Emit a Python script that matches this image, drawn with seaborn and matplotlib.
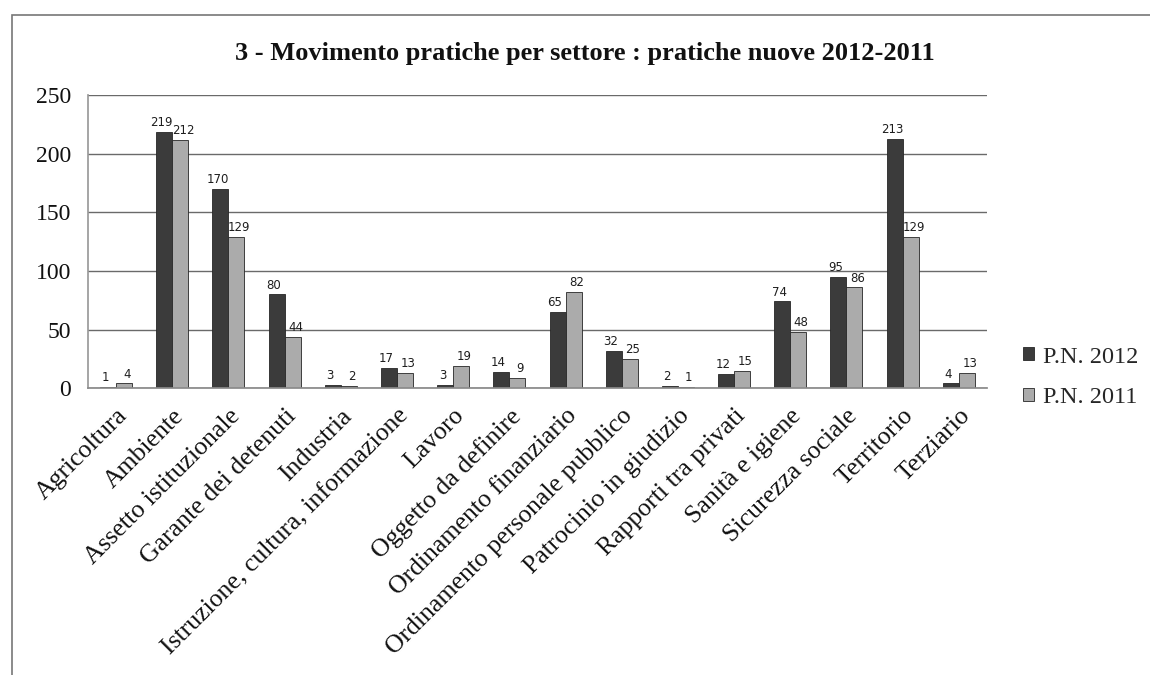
import matplotlib
matplotlib.use("Agg")
import matplotlib.pyplot as plt
import seaborn as sns
import pandas as pd
from matplotlib.patches import Rectangle
from matplotlib.ticker import FixedLocator

settori = [
    "Agricoltura", "Ambiente", "Assetto istituzionale", "Garante dei detenuti",
    "Industria", "Istruzione, cultura, informazione", "Lavoro",
    "Oggetto da definire", "Ordinamento finanziario",
    "Ordinamento personale pubblico", "Patrocinio in giudizio",
    "Rapporti tra privati", "Sanità e igiene", "Sicurezza sociale",
    "Territorio", "Terziario",
]
serie = ["P.N. 2012", "P.N. 2011"]
pn_2012 = [1, 219, 170, 80, 3, 17, 3, 14, 65, 32, 2, 12, 74, 95, 213, 4]
pn_2011 = [4, 212, 129, 44, 2, 13, 19, 9, 82, 25, 1, 15, 48, 86, 129, 13]
y_ticks = [0, 50, 100, 150, 200, 250]
titolo = "3 - Movimento pratiche per settore : pratiche nuove 2012-2011"

df = pd.DataFrame({
    "settore": settori * 2,
    "serie": [serie[0]] * len(settori) + [serie[1]] * len(settori),
    "pratiche": pn_2012 + pn_2011,
})

sns.set_theme(style="white")
plt.rcParams["font.family"] = ["Liberation Serif", "DejaVu Serif"]

fig = plt.figure(figsize=(11.5, 6.75), dpi=100)
ax = fig.add_axes([0.0765, 0.425, 0.7817, 0.434])

palette = {serie[0]: "#3b3b3b", serie[1]: "#ababab"}
sns.barplot(data=df, x="settore", y="pratiche", hue="serie", order=settori,
            hue_order=serie, palette=palette, width=0.57, saturation=1,
            edgecolor="#262626", linewidth=0.6, ax=ax)

# value labels, nudged apart so neighbouring pairs stay readable
for cont, dx in zip(ax.containers, (-2.0, 2.0)):
    for t in ax.bar_label(cont, fmt="%d", padding=2, fontsize=8.5,
                          family="DejaVu Sans", color="#1e1e1e"):
        t.xyann = (dx, t.xyann[1])

ax.set_ylim(0, 250)
ax.set_xlim(-0.5, len(settori) - 0.5)
ax.set_yticks(y_ticks)
ax.yaxis.grid(True, color="#6a6a6a", linewidth=1.0)
ax.set_axisbelow(True)
ax.set_xlabel("")
ax.set_ylabel("")

for s in ["top", "right"]:
    ax.spines[s].set_visible(False)
ax.spines["left"].set_color("#9a9a9a")
ax.spines["bottom"].set_color("#8a8a8a")

ax.tick_params(axis="y", labelsize=17, length=0, pad=12, labelcolor="#111111")
ax.tick_params(axis="x", which="major", length=0, pad=12)
ax.xaxis.set_minor_locator(FixedLocator([i - 0.5 for i in range(len(settori) + 1)]))
ax.tick_params(axis="x", which="minor", length=6, color="#8a8a8a", width=1)
plt.setp(ax.get_xticklabels(), rotation=45, ha="right", rotation_mode="anchor",
         fontsize=18.5, color="#111111")

ax.legend(loc="center left", bbox_to_anchor=(0.8706, 0.441),
          bbox_transform=fig.transFigure, frameon=False, fontsize=17.5,
          handlelength=0.45, handleheight=0.45, handletextpad=0.35,
          labelspacing=0.8)

fig.text(0.509, 0.911, titolo, ha="center", va="baseline", fontsize=19,
         fontweight="bold", color="#111111")

# outer chart frame
fig.patches.append(Rectangle((0.0104, -0.1), 1.1, 1.078, transform=fig.transFigure,
                             fill=False, edgecolor="#777777", linewidth=1.2))

fig.savefig("out.png", dpi=100, facecolor="white")
